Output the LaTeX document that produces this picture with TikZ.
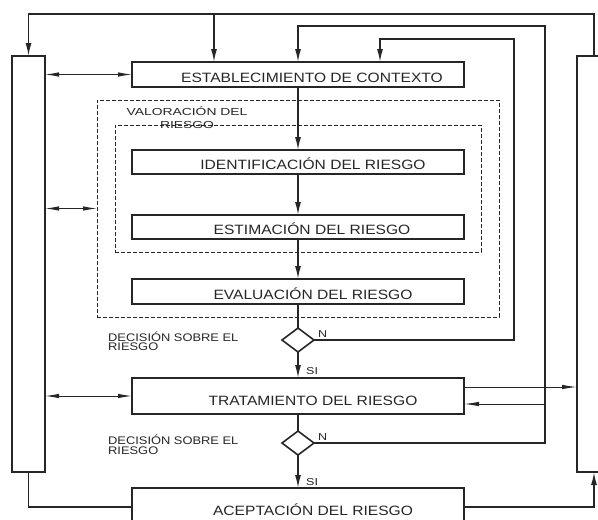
\documentclass[tikz,border=0pt]{standalone}
\usepackage{fontspec}
\setmainfont{Liberation Sans}
\usetikzlibrary{positioning,calc,arrows.meta,shapes.geometric}

\newcommand{\wtxt}[2]{\scalebox{#1}[1]{#2}}
\colorlet{ink}{black!85}

\begin{document}
\begin{tikzpicture}[x=1pt,y=-1pt,color=ink,
    box/.style={draw,line width=1.9pt,minimum width=332pt,inner sep=0pt,outer sep=0pt},
    bar/.style={draw,line width=1.9pt,minimum width=33pt,minimum height=416pt,inner sep=0pt,outer sep=0pt},
    zone/.style={draw,dash pattern=on 4pt off 2pt,line width=1pt,inner sep=0pt,outer sep=0pt},
    decision/.style={draw,diamond,line width=1.6pt,minimum width=32pt,minimum height=24pt,inner sep=0pt,outer sep=0pt},
    boxtext/.style={anchor=base,inner sep=0pt,font=\fontsize{13.5}{14}\selectfont},
    small/.style={anchor=base west,inner sep=0pt,font=\fontsize{11}{10}\selectfont},
    tag/.style={anchor=base west,inner sep=0pt,font=\fontsize{10}{10}\selectfont},
    conn/.style={line width=1.6pt},
    arr/.style={conn,-{Latex[length=13pt,width=6pt]}},
    thinarr/.style={line width=1pt,-{Latex[length=15pt,width=4.5pt]}},
    dbl/.style={line width=1pt,{Latex[length=14pt,width=4.5pt]}-{Latex[length=14pt,width=4.5pt]}}
]
    \useasboundingbox (0,0) rectangle (598,520);
    \fill[white] (0,0) rectangle (598,520);
    \clip (0,0) rectangle (598,520);

    % side bars
    \node[bar] (leftbar) at (28.5,264) {};
    \node[bar,minimum width=34pt] (rightbar) at (594,264) {};

    % risk assessment zones
    \node[zone,minimum width=402pt,minimum height=217pt] (valor) at (298,208.5) {};
    \node[zone,minimum width=366pt,minimum height=127pt] (riskzone) at (298,188.5) {};
    \node[anchor=base,inner sep=0pt,font=\fontsize{10.2}{10}\selectfont] (valorA) at (187,115) {\wtxt{1.36}{VALORACIÓN DEL}};
    \node[anchor=base,inner sep=0pt,font=\fontsize{10.2}{10}\selectfont] (valorB) at (187,128.5) {\wtxt{1.36}{RIESGO}};

    % process boxes
    \node[box,minimum height=25pt] (estab) at (298,74.5) {};
    \node[box,minimum height=24pt] (ident) at (298,162) {};
    \node[box,minimum height=24pt] (estim) at (298,227) {};
    \node[box,minimum height=25pt] (evalu) at (298,291.5) {};
    \node[box,minimum height=36pt] (trat) at (298,396) {};
    \node[box,minimum height=38pt] (acept) at (298,507) {};

    \node[boxtext] (estabT) at ([xshift=14pt,yshift=-8pt]estab.center) {\wtxt{1.155}{ESTABLECIMIENTO DE CONTEXTO}};
    \node[boxtext] (identT) at ([xshift=15pt,yshift=-7pt]ident.center) {\wtxt{1.155}{IDENTIFICACIÓN DEL RIESGO}};
    \node[boxtext] (estimT) at ([xshift=14pt,yshift=-7pt]estim.center) {\wtxt{1.155}{ESTIMACIÓN DEL RIESGO}};
    \node[boxtext] (evaluT) at ([xshift=15pt,yshift=-8pt]evalu.center) {\wtxt{1.155}{EVALUACIÓN DEL RIESGO}};
    \node[boxtext] (tratT) at ([xshift=15pt,yshift=-9pt]trat.center) {\wtxt{1.155}{TRATAMIENTO DEL RIESGO}};
    \node[boxtext] (aceptT) at ([xshift=15pt,yshift=-8pt]acept.center) {\wtxt{1.155}{ACEPTACIÓN DEL RIESGO}};

    % decisions
    \node[decision] (dec1) at (298,340) {};
    \node[decision] (dec2) at (298,443) {};
    \node[small] (dec1A) at (108,341) {\wtxt{1.17}{DECISIÓN SOBRE EL}};
    \node[small] (dec1B) at (108,350.7) {\wtxt{1.17}{RIESGO}};
    \node[small] (dec2A) at (108,444) {\wtxt{1.17}{DECISIÓN SOBRE EL}};
    \node[small] (dec2B) at (108,454) {\wtxt{1.17}{RIESGO}};
    \node[tag] (n1) at ([xshift=4pt,yshift=3pt]dec1.east) {\wtxt{1.25}{N}};
    \node[tag] (n2) at ([xshift=4pt,yshift=3pt]dec2.east) {\wtxt{1.25}{N}};
    \node[tag] (si1) at ([xshift=8pt,yshift=4pt]trat.north) {\wtxt{1.25}{SI}};
    \node[tag] (si2) at ([xshift=8pt,yshift=3pt]acept.north) {\wtxt{1.25}{SI}};

    % main chain
    \draw[arr] (estab) -- (ident);
    \draw[arr] (ident) -- (estim);
    \draw[arr] (estim) -- (evalu);
    \draw[conn] (evalu) -- (dec1);
    \draw[arr] (dec1) -- (trat);
    \draw[conn] (trat) -- (dec2);
    \draw[arr] (dec2) -- (acept);

    % feedback loops
    \coordinate (top) at (594,14);
    \coordinate (topin) at (214,14);
    \coordinate (loopB) at (545,26);
    \coordinate (loopA) at (514,39);
    \coordinate (loopAin) at (380,39);
    \coordinate (tratback) at (545,404);
    \draw[arr] (rightbar.north) -- (top) -| (leftbar.north);
    \draw[arr] (topin) -- (topin |- estab.north);
    \draw[arr] (dec2.east) -| (loopB) -| (estab.north);
    \draw[arr] (dec1.east) -| (loopA) -- (loopAin) -- (loopAin |- estab.north);
    \draw[thinarr] (tratback) -- (tratback -| trat.east);
    \draw[thinarr] ([yshift=9pt]trat.east) -- ([yshift=9pt]trat.east -| rightbar.west);

    % links to the side bars
    \draw[dbl] (leftbar.east |- estab.west) -- (estab.west);
    \draw[dbl] (leftbar.east |- valor.west) -- (valor.west);
    \draw[dbl] (leftbar.east |- trat.west) -- (trat.west);
    \draw[conn] (leftbar.south) |- (acept.west);
    \draw[arr] (acept.east) -| (rightbar.south);
\end{tikzpicture}
\end{document}
